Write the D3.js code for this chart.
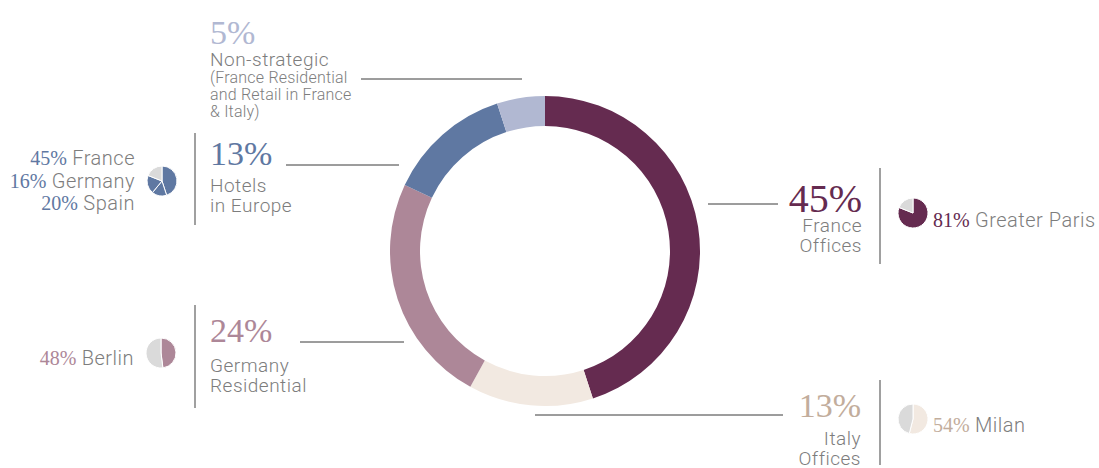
<!DOCTYPE html>
<html>
<head>
<meta charset="utf-8">
<script src="https://cdn.jsdelivr.net/npm/d3@7"></script>
<style>
  html, body { margin: 0; padding: 0; background: #ffffff; }
  svg { display: block; }
  .lbl { font-family: Roboto, "DejaVu Sans", sans-serif; font-weight: 300; fill: #7d7d7d; letter-spacing: 0.5px; }
  .num { font-family: "Liberation Serif", "DejaVu Serif", serif; letter-spacing: 0; }
</style>
</head>
<body>
<svg id="chart" width="1099" height="468"></svg>
<script>
// Portfolio split by segment (percent of total), clockwise from 12 o'clock
const segments = ["France Offices", "Italy Offices", "Germany Residential", "Hotels in Europe", "Non-strategic"];
const shares = [45, 13, 24, 13, 5];
const segmentColors = ["#652b50", "#f2e9e1", "#ad8798", "#5f78a2", "#b1b8d2"];
const numberColors = ["#652b50", "#c2ad9c", "#ad8798", "#5f78a2", "#b1b8d2"];
const titleLines = [["France", "Offices"], ["Italy", "Offices"], ["Germany", "Residential"], ["Hotels", "in Europe"], ["Non-strategic"]];
const nonStrategicNote = ["(France Residential", "and Retail in France", "& Italy)"];

// Geographic breakdown inside each segment
const parisSplit = [{ name: "Greater Paris", value: 81 }];
const milanSplit = [{ name: "Milan", value: 54 }];
const berlinSplit = [{ name: "Berlin", value: 48 }];
const hotelSplit = [
  { name: "France", value: 45 },
  { name: "Germany", value: 16 },
  { name: "Spain", value: 20 }
];
const splits = [parisSplit, milanSplit, berlinSplit, hotelSplit, null];
const restColor = "#dadada";

// Placement of the callouts around the ring
const layout = [
  { side: "right", x: 862, numY: 212, numSize: 40, titleY: 232, lineY: 204, lineX: [708, 778], sepX: 880, sepY: [168, 264], pie: [913, 213], subX: 933, subY: 227 },
  { side: "right", x: 861, numY: 417, numSize: 34, titleY: 445, lineY: 415, lineX: [535, 783], sepX: 880, sepY: [380, 465], pie: [913, 419], subX: 933, subY: 432 },
  { side: "left",  x: 210, numY: 342, numSize: 34, titleY: 372, lineY: 342, lineX: [300, 404], sepX: 195, sepY: [305, 408], pie: [161, 353], subX: 134, subY: 365 },
  { side: "left",  x: 210, numY: 165, numSize: 34, titleY: 192, lineY: 165, lineX: [286, 399], sepX: 195, sepY: [133, 225], pie: [162, 181], subX: 135, subY: 165 },
  { side: "left",  x: 210, numY: 44,  numSize: 34, titleY: 66,  lineY: 79,  lineX: [361, 522], sepX: null }
];

const svg = d3.select("#chart");
const cx = 545, cy = 251, rOuter = 155, rInner = 125;

const pie = d3.pie().sort(null).value(d => d);
const arc = d3.arc().innerRadius(rInner).outerRadius(rOuter);

svg.append("g")
  .attr("transform", `translate(${cx},${cy})`)
  .selectAll("path")
  .data(pie(shares))
  .join("path")
  .attr("d", arc)
  .attr("fill", (d, i) => segmentColors[i]);

// Leader lines
svg.append("g").selectAll("line")
  .data(layout)
  .join("line")
  .attr("x1", d => d.lineX[0]).attr("x2", d => d.lineX[1])
  .attr("y1", d => d.lineY).attr("y2", d => d.lineY)
  .attr("stroke", "#3a3a3a").attr("stroke-width", 1);

// Vertical separators
svg.append("g").selectAll("line")
  .data(layout.filter(d => d.sepX !== null))
  .join("line")
  .attr("x1", d => d.sepX).attr("x2", d => d.sepX)
  .attr("y1", d => d.sepY[0]).attr("y2", d => d.sepY[1])
  .attr("stroke", "#6d6d6d").attr("stroke-width", 1.3);

const miniPie = d3.pie().sort(null).value(d => d.value);
const miniArc = d3.arc().innerRadius(0).outerRadius(15);

segments.forEach((name, i) => {
  const L = layout[i];
  const anchor = L.side === "right" ? "end" : "start";

  svg.append("text")
    .attr("class", "num")
    .attr("x", L.x).attr("y", L.numY)
    .attr("text-anchor", anchor)
    .attr("font-size", L.numSize)
    .attr("fill", numberColors[i])
    .text(shares[i] + "%");

  titleLines[i].forEach((t, k) => {
    svg.append("text")
      .attr("class", "lbl")
      .attr("x", L.x).attr("y", L.titleY + k * 20)
      .attr("text-anchor", anchor)
      .attr("font-size", 19)
      .text(t);
  });

  if (i === 4) {
    nonStrategicNote.forEach((t, k) => {
      svg.append("text")
        .attr("class", "lbl")
        .attr("x", L.x).attr("y", 83 + k * 17)
        .attr("font-size", 16)
        .style("letter-spacing", "0.2px")
        .text(t);
    });
  }

  const split = splits[i];
  if (!split) return;

  // Mini pie: the named parts, then the remainder in grey
  const rest = 100 - d3.sum(split, d => d.value);
  const parts = split.map(d => ({ value: d.value, color: segmentColors[i] }))
    .concat([{ value: rest, color: restColor }]);
  svg.append("g")
    .attr("transform", `translate(${L.pie[0]},${L.pie[1]})`)
    .selectAll("path")
    .data(miniPie(parts))
    .join("path")
    .attr("d", miniArc)
    .attr("fill", d => d.data.color)
    .attr("stroke", "#ffffff")
    .attr("stroke-width", 1);

  // Breakdown text
  const subAnchor = L.side === "right" ? "start" : "end";
  split.forEach((d, k) => {
    const t = svg.append("text")
      .attr("x", L.subX).attr("y", L.subY + k * 22.5)
      .attr("text-anchor", subAnchor)
      .attr("font-size", 20);
    t.append("tspan").attr("class", "num").attr("fill", numberColors[i]).text(d.value + "%");
    t.append("tspan").attr("class", "lbl").text(" " + d.name);
  });
});
</script>
</body>
</html>
